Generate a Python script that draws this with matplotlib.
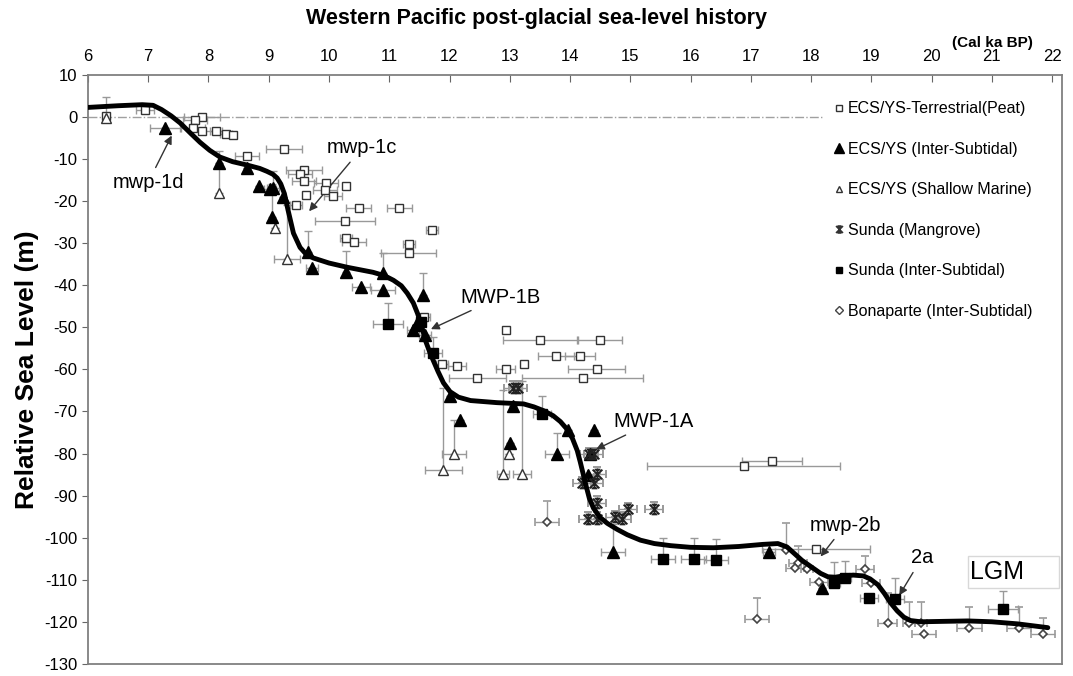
import matplotlib.pyplot as plt
from matplotlib.lines import Line2D
from matplotlib.path import Path
from matplotlib.patches import Rectangle

# ---- data (age in cal ka BP, relative sea level in m) ----
curve_age = [6.0, 6.5, 6.9, 7.08, 7.22, 7.38, 7.53, 7.7, 7.86, 8.02, 8.19, 8.4, 8.64, 8.85,
             8.97, 9.07, 9.14, 9.2, 9.26, 9.32, 9.41, 9.52, 9.62, 9.74, 10.0, 10.3, 10.73,
             10.92, 11.07, 11.2, 11.3, 11.4, 11.47, 11.54, 11.6, 11.68, 11.81, 11.9, 12.01,
             12.15, 12.35, 12.79, 13.23, 13.4, 13.56, 13.72, 13.84, 13.95, 14.04, 14.12, 14.17,
             14.26, 14.32, 14.39, 14.5, 14.62, 14.78, 14.95, 15.17, 15.4, 15.67, 16.0, 16.38,
             16.8, 17.2, 17.45, 17.6, 17.71, 17.85, 18.04, 18.16, 18.28, 18.4, 18.54, 18.7,
             18.87, 18.98, 19.11, 19.22, 19.32, 19.43, 19.54, 19.65, 19.82, 20.2, 20.6, 21.0,
             21.43, 21.93]
curve_rsl = [2.3, 2.7, 2.95, 2.8, 1.8, 0.3, -1.4, -3.8, -6.0, -7.9, -9.5, -10.6, -11.4, -12.2,
             -12.9, -13.6, -14.5, -15.9, -18.2, -22.1, -27.6, -31.0, -32.6, -33.5, -34.7, -35.7, -36.9,
             -37.7, -38.8, -40.1, -41.9, -44.2, -46.7, -49.8, -53.1, -56.2, -60.5, -63.2, -65.3,
             -66.6, -67.4, -67.9, -68.2, -68.9, -69.8, -71.0, -72.4, -74.2, -76.4, -79.3, -82.0,
             -87.3, -90.6, -93.0, -95.2, -96.6, -98.0, -99.3, -100.6, -101.4, -101.9, -102.3, -102.4,
             -102.1, -101.6, -101.4, -102.2, -103.6, -105.4, -107.3, -108.5, -109.3, -109.4, -109.1, -108.9,
             -109.1, -109.8, -111.2, -113.3, -115.5, -117.4, -118.9, -119.7, -120.0, -119.9, -119.8, -120.0,
             -120.5, -121.4]

peat_age = [6.3, 6.95, 7.89, 7.78, 7.75, 7.89, 8.13, 8.29, 8.41, 8.64, 9.26, 9.59, 9.52,
            9.59, 9.95, 9.94, 10.29, 9.62, 10.07, 9.46, 10.49, 11.17, 10.27, 10.29, 10.42,
            11.71, 11.32, 11.32, 11.58, 12.93, 13.51, 14.49, 13.77, 14.17, 14.44, 14.21,
            11.88, 12.13, 12.46, 12.93, 13.23, 16.88, 17.35, 18.08]
peat_rsl = [0.2, 1.6, 0.0, -0.7, -2.6, -3.3, -3.3, -4.0, -4.3, -9.3, -7.6, -12.6, -13.6,
            -15.2, -15.7, -17.4, -16.4, -18.6, -18.8, -21.0, -21.7, -21.7, -24.8, -28.8, -29.8,
            -26.9, -30.2, -32.4, -47.6, -50.7, -53.1, -53.1, -56.7, -56.7, -59.8, -62.1,
            -58.8, -59.3, -62.1, -60.0, -58.6, -82.9, -81.7, -102.6]
peat_xerr = [0, 0.15, 0.3, 0.2, 0.2, 0.2, 0.1, 0.1, 0.05, 0.2, 0.3, 0.3, 0.2,
             0.2, 0.2, 0.2, 0, 0, 0.15, 0.1, 0.2, 0.2, 0.5, 0.1, 0.2,
             0.1, 0.1, 0.45, 0.1, 0, 0.62, 0.37, 0.3, 0.25, 0.47, 1.0,
             0.1, 0.15, 0.47, 0.15, 0.05, 1.6, 0.5, 0.9]
peat_yerr = [4.6, 0, 0, 0, 0, 0, 0, 0, 0, 0, 0, 0, 0,
             0, 0, 0, 0, 0, 0, 0, 0, 0, 0, 0, 0,
             0, 0, 0, 0, 0, 0, 0, 0, 0, 0, 0,
             0, 0, 0, 0, 0, 0, 0, 0]

ecs_age = [7.28, 8.18, 8.64, 8.84, 9.02, 9.07, 9.24, 9.06, 9.65, 9.72, 10.29, 10.53, 10.9,
           10.9, 11.56, 11.4, 11.6, 11.45, 12.0, 12.18, 13.06, 13.01, 13.79, 13.97, 14.39,
           14.3, 14.33, 14.72, 17.31, 18.18]
ecs_rsl = [-2.6, -11.0, -12.0, -16.4, -17.1, -16.9, -19.0, -23.8, -32.1, -36.0, -36.9, -40.5, -41.2,
           -37.1, -42.4, -50.7, -51.9, -49.5, -66.2, -72.1, -68.6, -77.4, -80.0, -74.5, -74.5,
           -85.2, -80.2, -103.3, -103.3, -111.9]
ecs_xerr = [0.25, 0, 0, 0, 0.1, 0.1, 0, 0, 0, 0.1, 0, 0.15, 0.2,
            0, 0, 0.1, 0.1, 0, 0, 0, 0, 0, 0.2, 0, 0,
            0, 0, 0.2, 0.1, 0]
ecs_yerr = [0, 3, 0, 0, 0, 4, 0, 8, 5, 0, 5, 0, 0,
            4.7, 5.3, 0, 0, 0, 0, 0, 0, 0, 5, 0, 0,
            0, 0, 6.5, 0, 0]

shallow_age = [6.3, 8.18, 9.11, 9.3, 12.08, 11.9, 12.99, 12.89, 13.21]
shallow_rsl = [-0.2, -18.0, -26.4, -33.8, -80.0, -83.8, -80.2, -84.8, -84.8]
shallow_xerr = [0, 0, 0, 0.22, 0.2, 0.3, 0, 0.1, 0.15]
shallow_yerr = [0, 7, 0, 13, 8, 19.5, 0, 20, 22]

mangrove_age = [13.06, 13.14, 14.32, 14.39, 14.45, 14.39, 14.2, 14.45, 14.44, 14.74, 14.87,
                14.97, 15.4, 14.3]
mangrove_rsl = [-64.3, -64.3, -80.2, -80.2, -84.8, -86.9, -87.1, -91.7, -95.5, -95.2, -95.5,
                -93.3, -93.1, -95.5]
mangrove_xerr = [0.15] * 14
mangrove_yerr = [1.5] * 14

sunda_age = [10.98, 11.52, 11.73, 13.54, 15.54, 16.05, 16.42, 18.38, 18.56, 18.97, 19.39, 21.18]
sunda_rsl = [-49.2, -48.8, -56.2, -70.7, -105.0, -105.0, -105.2, -110.7, -109.5, -114.3, -114.5, -116.9]
sunda_xerr = [0.25, 0, 0.15, 0.15, 0.2, 0.2, 0.2, 0.1, 0.1, 0.15, 0.15, 0.25]
sunda_yerr = [5, 0, 4, 4.5, 5, 5, 5, 5, 4, 0, 5, 4.3]

bona_age = [13.62, 17.1, 17.58, 17.78, 17.74, 17.94, 18.13, 18.89, 19.0, 19.27, 19.62, 19.82,
            19.87, 20.63, 21.45, 21.85]
bona_rsl = [-96.2, -119.3, -102.9, -106.0, -107.1, -107.4, -110.5, -107.4, -110.7, -120.2,
            -120.2, -120.2, -122.9, -121.4, -121.4, -123.0]
bona_xerr = [0.2, 0.2, 0, 0.15, 0.15, 0.1, 0.15, 0.15, 0.15, 0.15, 0.1, 0.1, 0.2, 0.2, 0.2, 0.2]
bona_yerr = [4.8, 5, 6.5, 4, 0, 0, 0, 3, 0, 7, 5, 5, 0, 5, 5, 4]

labels = ["ECS/YS-Terrestrial(Peat)", "ECS/YS (Inter-Subtidal)", "ECS/YS (Shallow Marine)",
          "Sunda (Mangrove)", "Sunda (Inter-Subtidal)", "Bonaparte (Inter-Subtidal)"]

plt.rcParams["font.family"] = ["Liberation Sans", "DejaVu Sans"]
plt.rcParams["axes.unicode_minus"] = False

# excel-like "star" marker: an x with a vertical bar and short caps
M, L = Path.MOVETO, Path.LINETO
star = Path([(-1, -1), (1, 1), (-1, 1), (1, -1), (0, -1), (0, 1), (-0.6, 1), (0.6, 1), (-0.6, -1), (0.6, -1)],
            [M, L, M, L, M, L, M, L, M, L])

fig = plt.figure(figsize=(10.73, 6.76), dpi=100)
ax = fig.add_axes([0.082, 0.018, 0.908, 0.871])

err_kw = dict(ecolor="#999999", elinewidth=1.0, capsize=3, capthick=1.0, linestyle="none")

series = [
    (peat_age, peat_rsl, peat_xerr, peat_yerr, dict(marker="s", ms=6, mfc="white", mec="#333333", mew=1.0)),
    (shallow_age, shallow_rsl, shallow_xerr, shallow_yerr, dict(marker="^", ms=6.5, mfc="white", mec="#333333", mew=1.0)),
    (ecs_age, ecs_rsl, ecs_xerr, ecs_yerr, dict(marker="^", ms=8, mfc="black", mec="black")),
    (mangrove_age, mangrove_rsl, mangrove_xerr, mangrove_yerr, dict(marker=star, ms=7, mfc="none", mec="#222222", mew=1.4)),
    (sunda_age, sunda_rsl, sunda_xerr, sunda_yerr, dict(marker="s", ms=7, mfc="black", mec="black")),
    (bona_age, bona_rsl, bona_xerr, bona_yerr, dict(marker="D", ms=4.5, mfc="white", mec="#444444", mew=1.2)),
]
for age, rsl, xe, ye, mk in series:
    ax.errorbar(age, rsl, xerr=xe, yerr=[[0] * len(ye), ye], zorder=3, **err_kw, **mk)

ax.plot([6, 18.2], [0, 0], color="#a0a0a0", lw=1.0, ls="-.", zorder=1)
ax.plot(curve_age, curve_rsl, color="black", lw=3.5, solid_joinstyle="round",
        solid_capstyle="round", zorder=4)

ax.set_xlim(6, 22.17)
ax.set_ylim(-130, 10)
ax.set_xticks(range(6, 23))
ax.set_yticks(range(-130, 11, 10))
ax.xaxis.tick_top()
ax.tick_params(axis="x", direction="in", length=5, labelsize=12, pad=8, color="#666666")
ax.tick_params(axis="y", direction="out", length=4, labelsize=12, color="#666666")
for s in ax.spines.values():
    s.set_color("#808080")
    s.set_linewidth(1.3)
ax.set_ylabel("Relative Sea Level (m)", fontsize=19, fontweight="bold", labelpad=4)

fig.text(0.5, 0.972, "Western Pacific post-glacial sea-level history", ha="center", va="center",
         fontsize=15.5, fontweight="bold")
fig.text(0.925, 0.936, "(Cal ka BP)", ha="center", va="center", fontsize=11, fontweight="bold")

arrow = dict(arrowstyle="-|>", color="#333333", lw=1.0, mutation_scale=12)
fs = 14.5
ax.annotate("mwp-1d", xy=(7.41, -3.8), xytext=(7.0, -15.5), fontsize=fs, ha="center", va="center", arrowprops=arrow)
ax.annotate("mwp-1c", xy=(9.64, -22.9), xytext=(10.55, -7.3), fontsize=fs, ha="center", va="center", arrowprops=arrow)
ax.annotate("MWP-1B", xy=(11.65, -50.7), xytext=(12.84, -42.8), fontsize=fs, ha="center", va="center", arrowprops=arrow)
ax.annotate("MWP-1A", xy=(14.39, -79.3), xytext=(14.72, -72.4), fontsize=fs, ha="left", va="center", arrowprops=arrow)
ax.annotate("mwp-2b", xy=(18.13, -105.0), xytext=(18.57, -97.0), fontsize=fs, ha="center", va="center", arrowprops=arrow)
ax.annotate("2a", xy=(19.44, -114.3), xytext=(19.84, -104.8), fontsize=fs, ha="center", va="center", arrowprops=arrow)
ax.add_patch(Rectangle((20.61, -111.9), 1.51, 7.6, fc="white", ec="#d8d8d8", lw=1.0, zorder=2))
ax.text(21.09, -108.1, "LGM", fontsize=18, ha="center", va="center", zorder=2.5)

handles = [
    Line2D([], [], ls="none", marker="s", ms=5, mfc="white", mec="#333333"),
    Line2D([], [], ls="none", marker="^", ms=6.5, mfc="black", mec="black"),
    Line2D([], [], ls="none", marker="^", ms=5, mfc="white", mec="#333333"),
    Line2D([], [], ls="none", marker=star, ms=5, mfc="none", mec="#333333", mew=1.2),
    Line2D([], [], ls="none", marker="s", ms=5, mfc="black", mec="black"),
    Line2D([], [], ls="none", marker="D", ms=4, mfc="white", mec="#444444"),
]
ax.legend(handles, labels, loc="upper left", bbox_to_anchor=(0.748, 0.98), frameon=False,
          fontsize=11.5, labelspacing=1.6, handletextpad=0.05, handlelength=1.0)

fig.savefig("out.png", dpi=100)
